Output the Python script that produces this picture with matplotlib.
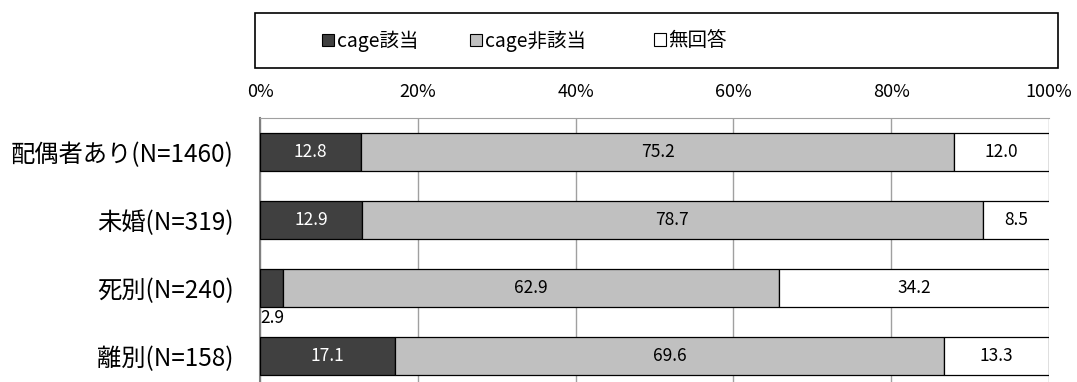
import matplotlib
matplotlib.use("Agg")
import matplotlib.pyplot as plt
from matplotlib.patches import Rectangle, Patch

plt.rcParams['font.family'] = ['Noto Sans CJK JP', 'DejaVu Sans']

categories = ['配偶者あり(N=1460)', '未婚(N=319)', '死別(N=240)', '離別(N=158)']
series_names = ['cage該当', 'cage非該当', '無回答']
cage_yes = [12.8, 12.9, 2.9, 17.1]
cage_no = [75.2, 78.7, 62.9, 69.6]
no_answer = [12.0, 8.5, 34.2, 13.3]
tick_labels = ['0%', '20%', '40%', '60%', '80%', '100%']

colors = ['#404040', '#C0C0C0', '#FFFFFF']
text_colors = ['white', 'black', 'black']

W, H = 1077, 382
fig = plt.figure(figsize=(W / 100, H / 100), dpi=100)
left, right, top, bottom = 260, 1049, 118, 390
ax = fig.add_axes([left / W, 1 - bottom / H, (right - left) / W, (bottom - top) / H])

ypos = list(range(len(categories)))
series = [cage_yes, cage_no, no_answer]
lefts = [0.0] * len(categories)
bar_h = 0.57
for s, vals in enumerate(series):
    ax.barh(ypos, vals, left=lefts, height=bar_h, color=colors[s],
            edgecolor='black', linewidth=0.9, zorder=3)
    for i, v in enumerate(vals):
        if s == 0 and v < 5:
            ax.text(lefts[i] + 0.1, ypos[i] + bar_h / 2 + 0.02, f'{v:.1f}',
                    ha='left', va='top', fontsize=12.5, color='black', zorder=4)
        else:
            ax.text(lefts[i] + v / 2, ypos[i], f'{v:.1f}', ha='center', va='center',
                    fontsize=12.5, color=text_colors[s], zorder=4)
    lefts = [l + v for l, v in zip(lefts, vals)]

ax.set_xlim(0, 100)
ax.set_ylim(len(categories) - 0.5, -0.5)
ax.set_yticks(ypos)
ax.set_yticklabels(categories, fontsize=17.5)
ax.set_xticks([0, 20, 40, 60, 80, 100])
ax.set_xticklabels(tick_labels, fontsize=13)
ax.xaxis.tick_top()
ax.tick_params(axis='both', length=0)
ax.tick_params(axis='x', pad=12)
ax.tick_params(axis='y', pad=19)
ax.grid(axis='x', color='#A0A0A0', linewidth=1, zorder=0)
for sp in ['bottom', 'right']:
    ax.spines[sp].set_visible(False)
ax.spines['left'].set_color('#808080')
ax.spines['top'].set_color('#A0A0A0')
ax.spines['left'].set_linewidth(1.5)

# legend box
fig.patches.append(Rectangle((255 / W, 1 - 68 / H), (1058 - 255) / W, (68 - 13) / H,
                             transform=fig.transFigure, fill=False, edgecolor='black',
                             linewidth=1.2))
entry_x = [322, 470, 654]
for name, c, x in zip(series_names, colors, entry_x):
    h = Patch(facecolor=c, edgecolor='black', linewidth=0.8)
    fig.legend([h], [name], loc='center left', bbox_to_anchor=(x / W, 1 - 41 / H),
               frameon=False, fontsize=14, handlelength=0.6, handleheight=0.6,
               handletextpad=0.15, borderpad=0, borderaxespad=0)

fig.savefig('out.png', dpi=100)
